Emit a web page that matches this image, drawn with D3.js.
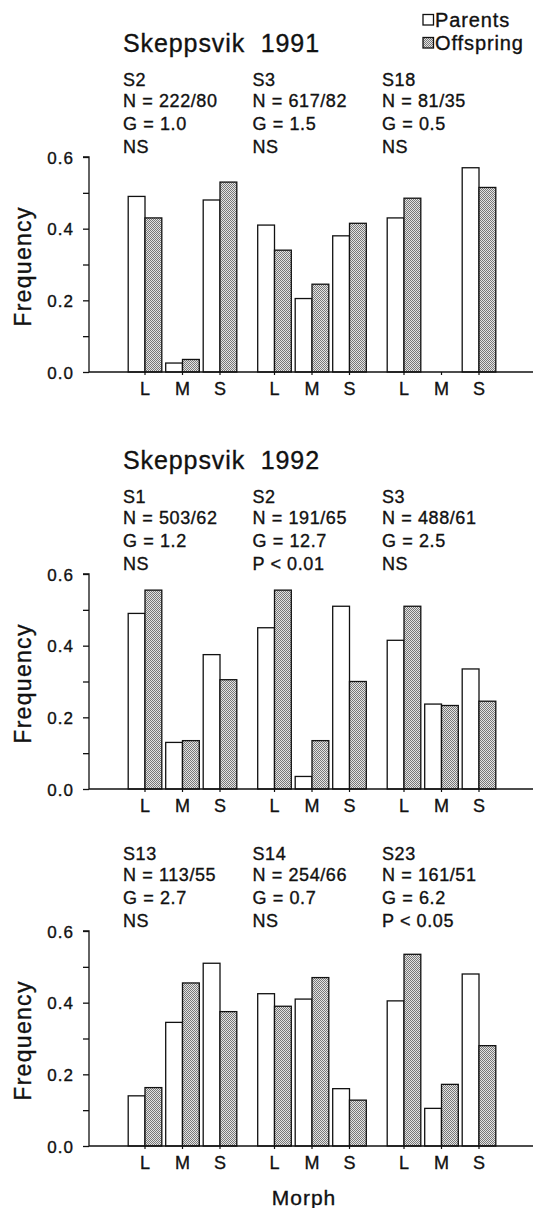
<!DOCTYPE html>
<html>
<head>
<meta charset="utf-8">
<script src="https://cdn.jsdelivr.net/npm/d3@7/dist/d3.min.js"></script>
<style>
  html, body { margin: 0; padding: 0; background: #fff; }
  svg { display: block; font-family: "Liberation Sans", Arial, Helvetica, sans-serif; }
  text { fill: #111; stroke: #111; stroke-width: 0.35px; }
</style>
</head>
<body>
<svg id="chart" width="535" height="1208"></svg>
<script>
// ---------- data ----------
const morphs = ["L", "M", "S"];
const yTickLabels = [0, 0.2, 0.4, 0.6];
const seriesNames = ["Parents", "Offspring"];

const titles = ["Skeppsvik  1991", "Skeppsvik  1992", ""];

const sites1991 = ["S2", "S3", "S18"];
const n1991 = ["N = 222/80", "N = 617/82", "N = 81/35"];
const g1991 = ["G = 1.0", "G = 1.5", "G = 0.5"];
const sig1991 = ["NS", "NS", "NS"];
const parents1991 = [[0.49, 0.025, 0.48], [0.41, 0.205, 0.38], [0.43, 0, 0.57]];
const offspring1991 = [[0.43, 0.035, 0.53], [0.34, 0.245, 0.415], [0.485, 0, 0.515]];

const sites1992a = ["S1", "S2", "S3"];
const n1992a = ["N = 503/62", "N = 191/65", "N = 488/61"];
const g1992a = ["G = 1.2", "G = 12.7", "G = 2.5"];
const sig1992a = ["NS", "P < 0.01", "NS"];
const parents1992a = [[0.49, 0.13, 0.375], [0.45, 0.035, 0.51], [0.415, 0.237, 0.335]];
const offspring1992a = [[0.555, 0.135, 0.305], [0.555, 0.135, 0.30], [0.51, 0.233, 0.245]];

const sites1992b = ["S13", "S14", "S23"];
const n1992b = ["N = 113/55", "N = 254/66", "N = 161/51"];
const g1992b = ["G = 2.7", "G = 0.7", "G = 6.2"];
const sig1992b = ["NS", "NS", "P < 0.05"];
const parents1992b = [[0.14, 0.345, 0.51], [0.425, 0.41, 0.16], [0.405, 0.105, 0.48]];
const offspring1992b = [[0.163, 0.455, 0.375], [0.39, 0.47, 0.128], [0.535, 0.172, 0.28]];

const panels = [
  { title: titles[0], sites: sites1991, n: n1991, g: g1991, sig: sig1991, parents: parents1991, offspring: offspring1991 },
  { title: titles[1], sites: sites1992a, n: n1992a, g: g1992a, sig: sig1992a, parents: parents1992a, offspring: offspring1992a },
  { title: titles[2], sites: sites1992b, n: n1992b, g: g1992b, sig: sig1992b, parents: parents1992b, offspring: offspring1992b }
];

// ---------- layout ----------
const svg = d3.select("#chart");
const axisX = 89, axisRight = 533;
const panelBottoms = [372, 789, 1146];
const plotH = 215;
const barW = 16.8;
const inkStroke = "#111";

// stipple pattern for offspring
const defs = svg.append("defs");
const pat = defs.append("pattern").attr("id", "stipple").attr("patternUnits", "userSpaceOnUse")
  .attr("width", 2).attr("height", 2);
pat.append("rect").attr("width", 2).attr("height", 2).attr("fill", "#e4e4e4");
pat.append("rect").attr("x", 0).attr("y", 0).attr("width", 1).attr("height", 1).attr("fill", "#787878");
pat.append("rect").attr("x", 1).attr("y", 1).attr("width", 1).attr("height", 1).attr("fill", "#787878");

const fills = ["#ffffff", "url(#stipple)"];

// x scales
const groupIdx = [0, 1, 2];
const xGroup = d3.scalePoint().domain(groupIdx).range([182.5, 441.5]);
const xMorph = d3.scalePoint().domain(morphs).range([-37.5, 37.5]);

panels.forEach((p, pi) => {
  const y0 = panelBottoms[pi];
  const y = d3.scaleLinear().domain([0, 0.6]).range([y0, y0 - plotH]);
  const g = svg.append("g");

  // title
  if (p.title) {
    g.append("text").attr("x", 123).attr("y", y(0.6) - 105)
      .attr("font-size", 25).attr("letter-spacing", 0.9).style("white-space", "pre")
      .attr("xml:space", "preserve").text(p.title);
  }

  // annotations
  groupIdx.forEach(gi => {
    const ax = xGroup(gi) - 59.5;
    const lines = [p.sites[gi], p.n[gi], p.g[gi], p.sig[gi]];
    const offs = [71, 50, 27, 4];
    lines.forEach((t, li) => {
      g.append("text").attr("x", ax).attr("y", y(0.6) - offs[li])
        .attr("font-size", 18).attr("letter-spacing", 0.6).text(t);
    });
  });

  // bars
  groupIdx.forEach(gi => {
    morphs.forEach((m, mi) => {
      const cx = xGroup(gi) + xMorph(m);
      const vals = [p.parents[gi][mi], p.offspring[gi][mi]];
      vals.forEach((v, si) => {
        if (v <= 0) return;
        g.append("rect")
          .attr("x", si === 0 ? cx - barW : cx)
          .attr("y", y(v))
          .attr("width", barW)
          .attr("height", y(0) - y(v))
          .attr("fill", fills[si])
          .attr("stroke", inkStroke)
          .attr("stroke-width", 1.3);
      });
    });
  });

  // y axis
  const yAxis = d3.axisLeft(y).tickValues(d3.range(0, 0.61, 0.1)).tickSize(6)
    .tickFormat(d => yTickLabels.some(t => Math.abs(t - d) < 1e-6) ? d3.format(".1f")(d) : "");
  const ya = g.append("g").attr("transform", `translate(${axisX},0)`).call(yAxis);
  ya.select(".domain").attr("stroke", inkStroke).attr("stroke-width", 1.3).attr("d", `M-6,${y(0.6)}H0V${y(0)}`);
  ya.selectAll(".tick line").attr("stroke", inkStroke).attr("stroke-width", 1.3);
  ya.selectAll(".tick text").attr("font-size", 17).attr("letter-spacing", 1)
    .attr("font-family", "Liberation Sans, Arial, sans-serif").attr("fill", "#111").attr("x", -15).attr("dy", "0.36em");

  // x axis line
  g.append("line").attr("x1", axisX).attr("x2", axisRight).attr("y1", y0).attr("y2", y0)
    .attr("stroke", inkStroke).attr("stroke-width", 1.4);

  // x ticks + labels
  groupIdx.forEach(gi => {
    morphs.forEach(m => {
      const cx = xGroup(gi) + xMorph(m);
      g.append("line").attr("x1", cx).attr("x2", cx).attr("y1", y0).attr("y2", y0 + 3)
        .attr("stroke", inkStroke).attr("stroke-width", 1.2);
      g.append("text").attr("x", cx).attr("y", y0 + 23).attr("text-anchor", "middle")
        .attr("font-size", 18).text(m);
    });
  });

  // y label
  g.append("text").attr("transform", `translate(31,${(y(0) + y(0.6)) / 2 + 2}) rotate(-90)`)
    .attr("text-anchor", "middle").attr("font-size", 23).attr("letter-spacing", 1.3).text("Frequency");
});

// legend
const legendY = [20, 43];
seriesNames.forEach((s, i) => {
  svg.append("rect").attr("x", 423).attr("y", legendY[i] - 5.5).attr("width", 10.5).attr("height", 10.5)
    .attr("fill", fills[i]).attr("stroke", inkStroke).attr("stroke-width", 1.3);
  svg.append("text").attr("x", 435).attr("y", legendY[i] + 7).attr("font-size", 20)
    .attr("letter-spacing", 0.9).text(s);
});

// x-axis title
svg.append("text").attr("x", 304).attr("y", 1205).attr("text-anchor", "middle")
  .attr("font-size", 21).attr("letter-spacing", 1).text("Morph");
</script>
</body>
</html>
